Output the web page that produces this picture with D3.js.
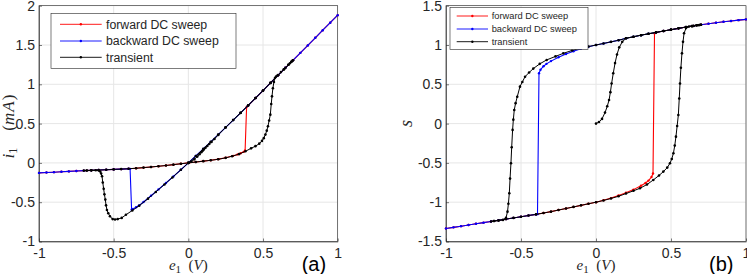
<!DOCTYPE html>
<html><head><meta charset="utf-8">
<script src="https://cdn.jsdelivr.net/npm/d3@7"></script>
<style>body{margin:0;background:#fff;} svg{display:block;}</style>
</head><body><svg id="c" width="747" height="274"></svg>
<script>
// ---------- data ----------
const fwdE = [-1,-0.95,-0.9,-0.85,-0.8,-0.75,-0.7,-0.65,-0.6,-0.55,-0.5,-0.45,-0.4,-0.35,-0.3,-0.25,-0.2,-0.15,-0.1,-0.05,0,0.05,0.1,0.15,0.2,0.25,0.3,0.33,0.35,0.37,0.38,
  0.39,0.4,0.45,0.5,0.55,0.6,0.65,0.7,0.75,0.8,0.85,0.9,0.95,1];
const fwdI = [-0.127,-0.122,-0.118,-0.113,-0.108,-0.103,-0.098,-0.095,-0.091,-0.087,-0.083,-0.079,-0.074,-0.068,-0.06,-0.052,-0.043,-0.033,-0.022,-0.011,0,0.011,0.022,0.034,0.048,0.066,0.09,0.108,0.122,0.14,0.158,
  0.71,0.73,0.825,0.92,1.018,1.115,1.21,1.305,1.4,1.495,1.592,1.688,1.784,1.88];
const fwdS = [-1.335,-1.32,-1.305,-1.29,-1.275,-1.26,-1.245,-1.23,-1.215,-1.2,-1.185,-1.17,-1.155,-1.138,-1.12,-1.1,-1.08,-1.06,-1.04,-1.02,-1.0,-0.975,-0.948,-0.915,-0.88,-0.84,-0.79,-0.755,-0.725,-0.68,-0.635,
  1.15,1.16,1.178,1.195,1.212,1.228,1.243,1.257,1.27,1.283,1.295,1.306,1.316,1.326];

const bwdE = [1,0.95,0.9,0.85,0.8,0.75,0.7,0.65,0.6,0.55,0.5,0.45,0.4,0.35,0.3,0.25,0.2,0.15,0.1,0.05,0,-0.05,-0.1,-0.15,-0.2,-0.25,-0.3,-0.33,-0.35,-0.37,-0.38,
  -0.39,-0.4,-0.45,-0.5,-0.55,-0.6,-0.65,-0.7,-0.75,-0.8,-0.85,-0.9,-0.95,-1];
const bwdI = [1.88,1.784,1.688,1.592,1.495,1.4,1.305,1.21,1.115,1.018,0.92,0.825,0.73,0.637,0.545,0.452,0.36,0.268,0.178,0.088,0,-0.087,-0.172,-0.256,-0.337,-0.418,-0.497,-0.54,-0.565,-0.585,-0.595,
  -0.076,-0.074,-0.079,-0.083,-0.087,-0.091,-0.095,-0.098,-0.103,-0.108,-0.113,-0.118,-0.122,-0.127];
const bwdS = [1.326,1.316,1.306,1.295,1.283,1.27,1.257,1.243,1.228,1.212,1.195,1.178,1.16,1.143,1.125,1.105,1.085,1.06,1.04,1.02,1.0,0.978,0.952,0.92,0.885,0.845,0.795,0.76,0.73,0.685,0.64,
  -1.152,-1.155,-1.17,-1.185,-1.2,-1.215,-1.23,-1.245,-1.26,-1.275,-1.29,-1.305,-1.32,-1.335];

const trE = [0,0.02,0.04,0.06,0.075,0.087,0.096,0.104,0.115,0.127,0.14,0.155,0.175,0.2,0.25,0.3,0.35,0.4,0.45,0.5,0.55,0.6,0.64,0.67,0.69,0.7,
  0.69,0.67,0.64,0.6,0.55,0.5,0.45,0.4,0.35,0.3,0.25,0.2,0.15,0.1,0.05,0,-0.05,-0.107,-0.16,-0.218,-0.27,-0.329,-0.375,-0.418,-0.446,-0.473,-0.491,-0.507,-0.525,-0.536,-0.545,-0.551,-0.556,-0.562,-0.567,-0.573,-0.578,-0.584,-0.59,-0.6,-0.62,-0.65,-0.68,-0.7,
  -0.68,-0.65,-0.6,-0.55,-0.5,-0.45,-0.4,-0.35,-0.3,-0.25,-0.2,-0.15,-0.1,-0.05,0,0.05,0.1,0.15,0.2,0.25,0.293,0.34,0.382,0.42,0.449,0.475,0.493,0.505,0.516,0.525,0.533,0.541,0.549,0.555,0.56,0.566,0.573,0.58,0.587,0.6,0.62,0.65,0.68,0.7];
const trI = [0,0.018,0.045,0.08,0.11,0.135,0.155,0.172,0.193,0.215,0.24,0.266,0.305,0.355,0.452,0.545,0.637,0.73,0.825,0.92,1.018,1.115,1.19,1.248,1.286,1.305,
  1.286,1.248,1.19,1.115,1.018,0.92,0.825,0.73,0.637,0.545,0.452,0.36,0.268,0.178,0.088,0,-0.088,-0.185,-0.275,-0.37,-0.455,-0.545,-0.605,-0.66,-0.7,-0.715,-0.72,-0.715,-0.679,-0.64,-0.6,-0.54,-0.467,-0.4,-0.33,-0.25,-0.17,-0.135,-0.11,-0.096,-0.094,-0.095,-0.097,-0.098,
  -0.097,-0.095,-0.091,-0.087,-0.083,-0.079,-0.074,-0.068,-0.06,-0.052,-0.043,-0.033,-0.022,-0.011,0,0.011,0.022,0.033,0.046,0.064,0.085,0.112,0.148,0.185,0.213,0.245,0.28,0.315,0.36,0.41,0.466,0.54,0.614,0.75,0.847,0.95,1.03,1.08,1.1,1.118,1.155,1.21,1.267,1.305];
const trS = [0,0.02,0.06,0.14,0.22,0.3,0.4,0.51,0.64,0.77,0.88,0.97,1.04,1.085,1.105,1.125,1.143,1.16,1.178,1.195,1.212,1.228,1.24,1.25,1.255,1.257,
  1.255,1.25,1.24,1.228,1.212,1.195,1.178,1.16,1.143,1.125,1.105,1.085,1.06,1.04,1.02,1.0,0.98,0.958,0.93,0.894,0.855,0.81,0.76,0.70,0.65,0.597,0.53,0.47,0.342,0.26,0.173,0.05,-0.08,-0.3,-0.505,-0.7,-0.887,-1.02,-1.12,-1.2,-1.225,-1.232,-1.24,-1.245,
  -1.24,-1.232,-1.215,-1.2,-1.185,-1.17,-1.155,-1.138,-1.12,-1.1,-1.08,-1.06,-1.04,-1.02,-1.0,-0.978,-0.952,-0.925,-0.89,-0.855,-0.823,-0.775,-0.717,-0.66,-0.611,-0.56,-0.505,-0.45,-0.378,-0.28,-0.166,-0.03,0.11,0.32,0.51,0.71,0.894,1.04,1.149,1.215,1.235,1.243,1.252,1.257];

const xTicks = [-1,-0.5,0,0.5,1];
const yTicksA = [-1,-0.5,0,0.5,1,1.5,2];
const yTicksB = [-1.5,-1,-0.5,0,0.5,1,1.5];
const seriesNames = ["forward DC sweep","backward DC sweep","transient"];
const seriesColors = ["#ff0000","#0000ff","#000000"];

// ---------- drawing ----------
const svg = d3.select("#c");
const AX = "#262626";
const SANS = "'Liberation Sans', Arial, Helvetica, sans-serif";
const SERIF = "'Liberation Serif', 'Times New Roman', serif";
const lineW = [1.1, 1.1, 1.0];
const dotR = [1.2, 1.2, 1.3];

function panel(o) {
  const x = d3.scaleLinear().domain([-1,1]).range([o.x0,o.x1]);
  const y = d3.scaleLinear().domain(o.yDomain).range([o.y1,o.y0]);
  const g = svg.append("g");
  // grid
  g.append("g").selectAll("line").data(xTicks).join("line")
    .attr("x1",d=>x(d)).attr("x2",d=>x(d)).attr("y1",o.y0).attr("y2",o.y1)
    .attr("stroke","#e6e6e6").attr("stroke-width",1);
  g.append("g").selectAll("line").data(o.yTicks).join("line")
    .attr("y1",d=>y(d)).attr("y2",d=>y(d)).attr("x1",o.x0).attr("x2",o.x1)
    .attr("stroke","#e6e6e6").attr("stroke-width",1);
  // box
  g.append("rect").attr("x",o.x0).attr("y",o.y0).attr("width",o.x1-o.x0).attr("height",o.y1-o.y0)
    .attr("fill","none").attr("stroke",AX).attr("stroke-width",0.6);
  // axes
  const ax = g.append("g").attr("transform",`translate(0,${o.y1})`)
    .call(d3.axisBottom(x).tickValues(xTicks).tickSizeInner(-3).tickSizeOuter(0).tickPadding(7).tickFormat(d=>String(d)));
  const ay = g.append("g").attr("transform",`translate(${o.x0},0)`)
    .call(d3.axisLeft(y).tickValues(o.yTicks).tickSizeInner(-3).tickSizeOuter(0).tickPadding(4).tickFormat(d=>String(d)));
  [ax,ay].forEach(a=>{
    a.select(".domain").attr("stroke",AX).attr("stroke-width",0.6);
    a.selectAll(".tick line").attr("stroke",AX).attr("stroke-width",0.6);
    a.selectAll("text").attr("fill",AX).style("font-family",SANS).style("font-size","14px");
  });
  // series
  const sets = [
    {e:fwdE, v:o.data[0]},
    {e:bwdE, v:o.data[1]},
    {e:trE,  v:o.data[2]}
  ];
  const line = d3.line().x(d=>x(d[0])).y(d=>y(d[1]));
  sets.forEach((s,k)=>{
    const pts = s.e.map((e,i)=>[e,s.v[i]]);
    g.append("path").datum(pts).attr("d",line).attr("fill","none")
      .attr("stroke",seriesColors[k]).attr("stroke-width",lineW[k]);
    g.append("g").selectAll("circle").data(pts).join("circle")
      .attr("cx",d=>x(d[0])).attr("cy",d=>y(d[1])).attr("r",dotR[k]).attr("fill",seriesColors[k]);
  });
  // legend
  const L = o.legend;
  g.append("rect").attr("x",L.x).attr("y",L.y).attr("width",L.w).attr("height",L.h)
    .attr("fill","#fff").attr("stroke",AX).attr("stroke-width",0.6);
  seriesNames.forEach((n,k)=>{
    const yy = L.rows[k];
    g.append("line").attr("x1",L.lx0).attr("x2",L.lx1).attr("y1",yy).attr("y2",yy)
      .attr("stroke",seriesColors[k]).attr("stroke-width",0.9);
    g.append("circle").attr("cx",(L.lx0+L.lx1)/2).attr("cy",yy).attr("r",1.2).attr("fill",seriesColors[k]);
    g.append("text").attr("x",L.tx).attr("y",yy).attr("dy","0.35em").text(n)
      .attr("fill",AX).style("font-family",SANS).style("font-size",L.fs+"px");
  });
  // x label
  const xl = g.append("text").attr("x",(o.x0+o.x1)/2).attr("y",270).attr("text-anchor","middle")
    .attr("fill",AX).style("font-family",SERIF).style("font-size","15px");
  xl.append("tspan").style("font-style","italic").text("e");
  xl.append("tspan").attr("dy",3).style("font-size","11px").text("1");
  xl.append("tspan").attr("dy",-3).text("\u2002(");
  xl.append("tspan").style("font-style","italic").text("V");
  xl.append("tspan").text(")");
  // y label
  const yl = g.append("text").attr("transform",`translate(${o.ylx},${o.ylc})} rotate(-90)`.replace("}",""))
    .attr("text-anchor","middle").attr("fill",AX).style("font-family",SERIF).style("font-size","17px");
  o.ylabel(yl);
  // panel tag
  g.append("text").attr("x",o.tagX).attr("y",271).text(o.tag)
    .attr("fill","#000").style("font-family",SANS).style("font-size","20px");
}

panel({
  x0:39, x1:337.7, y0:5.7, y1:241.5, yDomain:[-1,2], yTicks:yTicksA,
  data:[fwdI,bwdI,trI],
  legend:{x:51,y:13.3,w:185,h:55,rows:[24.3,41,57.3],lx0:60,lx1:101.7,tx:106,fs:12.3},
  ylx:14, ylc:126.5,
  ylabel:t=>{
    t.append("tspan").style("font-style","italic").text("i");
    t.append("tspan").attr("dy",3).style("font-size","12px").text("1");
    t.append("tspan").attr("dy",-3).text("\u2003(");
    t.append("tspan").style("font-style","italic").attr("letter-spacing","1px").text("mA");
    t.append("tspan").text(")");
  },
  tag:"(a)", tagX:301.7
});

panel({
  x0:446, x1:746, y0:5.7, y1:241.5, yDomain:[-1.5,1.5], yTicks:yTicksB,
  data:[fwdS,bwdS,trS],
  legend:{x:450,y:7.3,w:138,h:42,rows:[16,29,41.7],lx0:456.7,lx1:488,tx:491.7,fs:9.3},
  ylx:412, ylc:123.6,
  ylabel:t=>{ t.append("tspan").style("font-style","italic").style("font-size","18px").text("s"); },
  tag:"(b)", tagX:709
});
</script>
</body></html>
